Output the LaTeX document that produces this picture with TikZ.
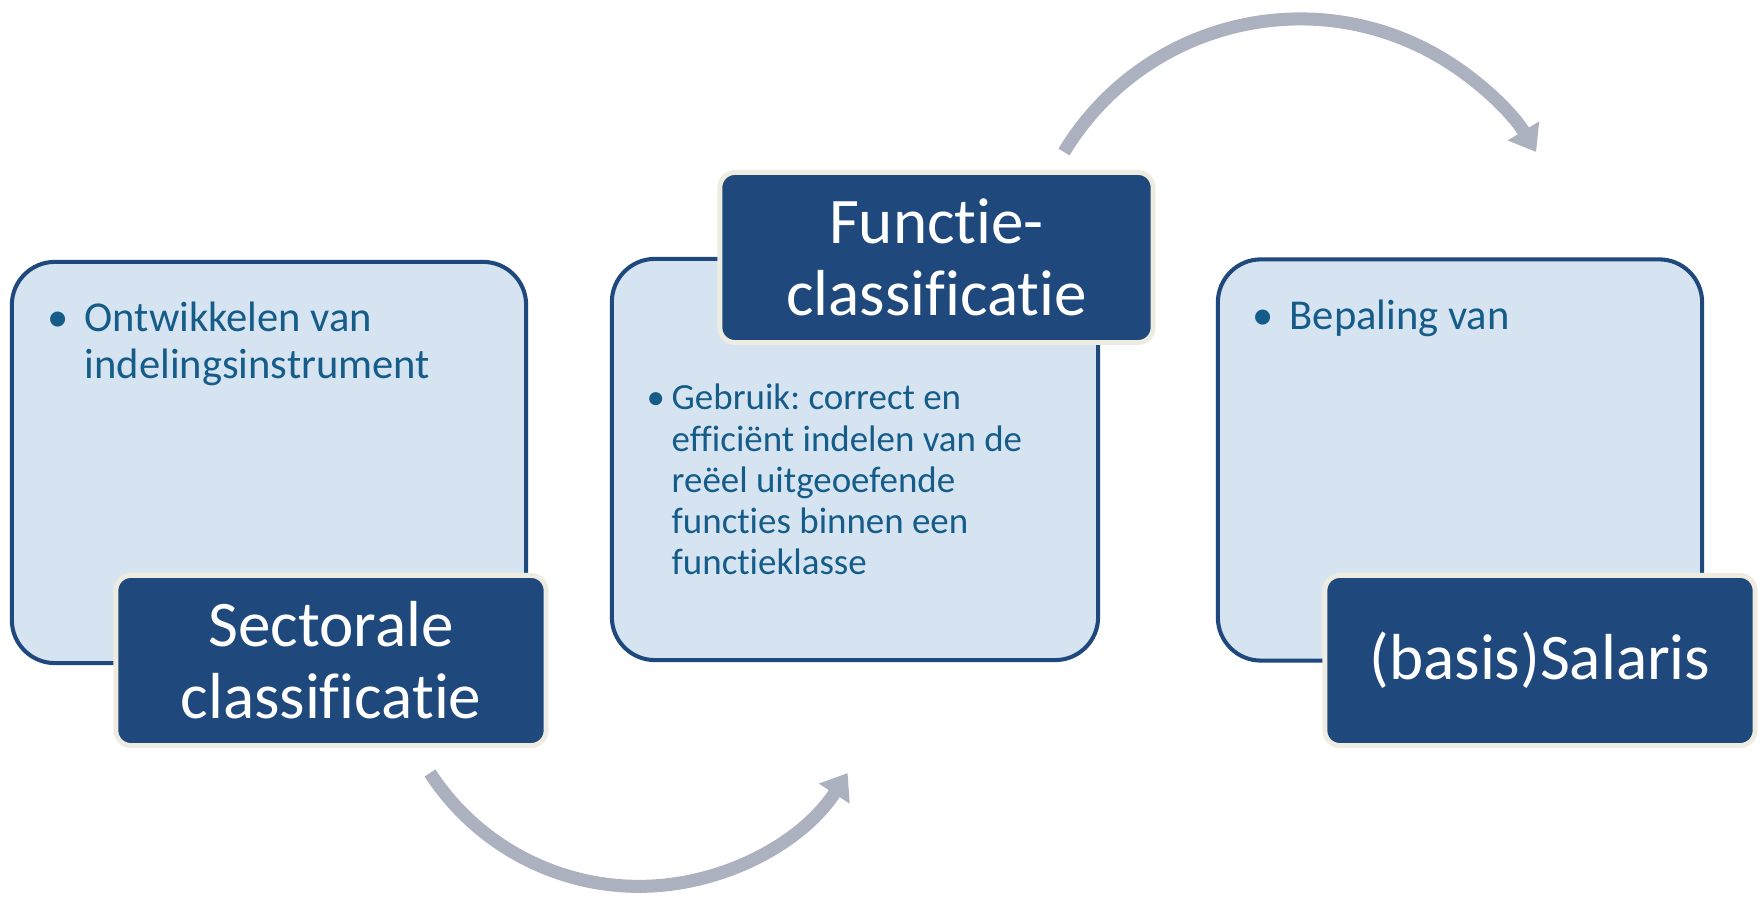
\documentclass[tikz,border=0pt]{standalone}
\usepackage{fontspec}
\setmainfont{Carlito}[Ligatures=NoCommon]
\usepackage{tikz}
\usetikzlibrary{arrows.meta, positioning}
\frenchspacing

\definecolor{navy}{HTML}{1F497D}
\definecolor{paleblue}{HTML}{D6E4F2}
\definecolor{cream}{HTML}{EEECE1}
\definecolor{bodytext}{HTML}{165C89}
\definecolor{arrowgrey}{HTML}{ACB1C0}

\tikzset{panel/.style={draw=navy, line width=1.15pt, fill=paleblue, rounded corners=0.43cm,
    inner sep=0pt, outer sep=0pt, minimum height=4.01cm}}
\tikzset{title/.style={draw=cream, line width=1.4pt, fill=navy, rounded corners=0.15cm,
    text=white, align=center, inner sep=0pt, outer sep=0pt, minimum height=1.70cm,
    font=\fontsize{18.5}{20.5}\selectfont}}
\tikzset{item/.style={text=bodytext, inner sep=0pt, anchor=base west}}
\tikzset{flow/.style={draw=arrowgrey, line width=3.7pt, -{Triangle[length=7pt,width=10pt]}}}

\newcommand{\bigitems}{\fontsize{12.1}{13.1}\selectfont}
\newcommand{\smallitems}{\fontsize{10.5}{11.7}\selectfont}

\begin{document}
\begin{tikzpicture}[x=0.01cm, y=0.01cm]
      \useasboundingbox (0,0) rectangle (1762,900);

      % light panels
      \node[panel, minimum width=5.14cm] (sect) at (269,437.5) {};
      \node[panel, minimum width=4.86cm] (func) at (855,440.5) {};
      \node[panel, minimum width=4.84cm] (sal) at (1460,440) {};

      % bullet texts
      \node[item] (t1) at (44,568) {\bigitems
        \begin{tabular}[t]{@{}c@{\hspace{0.14cm}}l@{}}
          \makebox[0.26cm]{\textbullet} & Ontwikkelen van \\
                                         & indelingsinstrument \\
        \end{tabular}};
      \node[item] (t2) at (645,490) {\smallitems
        \begin{tabular}[t]{@{}c@{\hspace{0.06cm}}l@{}}
          \makebox[0.20cm]{\textbullet} & Gebruik: correct en \\
                                         & efficiënt indelen van de \\
                                         & reëel uitgeoefende \\
                                         & functies binnen een \\
                                         & functieklasse \\
        \end{tabular}};
      \node[item] (t3) at (1249,570) {\bigitems
        \begin{tabular}[t]{@{}c@{\hspace{0.14cm}}l@{}}
          \makebox[0.26cm]{\textbullet} & Bepaling van \\
        \end{tabular}};

      % dark title boxes
      \node[title, minimum width=4.30cm] (sectT) at (331,239.5) {Sectorale\\classificatie};
      \node[title, minimum width=4.33cm] (funcT) at (936.5,642.5) {Functie-\\classificatie};
      \node[title, minimum width=4.30cm] (salT) at (1540,239.5) {(basis)Salaris};

      % curved arrows
      \coordinate (lowstart) at (430,127);
      \coordinate (highstart) at (1064,748);
      \draw[flow] (lowstart) arc[start angle=213, end angle=327, radius=249];
      \draw[flow] (highstart) arc[start angle=148.8, end angle=31.2, radius=276];

\end{tikzpicture}
\end{document}
